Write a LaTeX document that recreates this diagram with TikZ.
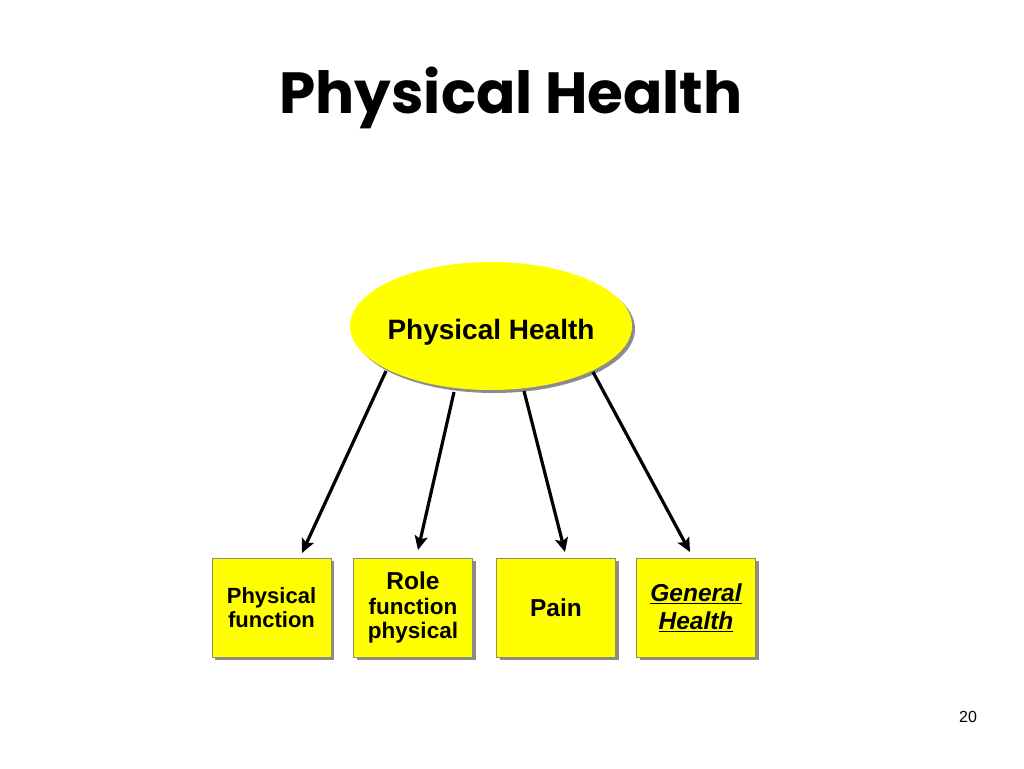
\documentclass[tikz,border=0pt]{standalone}
\usepackage{fontspec}
\setmainfont{Liberation Sans}
\newfontfamily\titlefont{Poppins}
\usetikzlibrary{arrows.meta,shapes.geometric}
\definecolor{boxyellow}{HTML}{FFFF00}
\definecolor{shadowgray}{HTML}{8C8C8C}
\definecolor{boxedge}{HTML}{8E8E6A}
\tikzset{
  leaf/.style={rectangle,fill=boxyellow,draw=boxedge,line width=0.8pt,
    minimum width=119pt,minimum height=99pt,inner sep=0pt,align=center,
    preaction={fill=shadowgray,draw=none,transform canvas={shift={(3pt,-3pt)}}}},
  hub/.style={ellipse,fill=boxyellow,draw=none,minimum width=282pt,minimum height=128pt,
    inner sep=0pt,font=\fontsize{28}{30}\selectfont\bfseries,
    preaction={fill=shadowgray,transform canvas={shift={(3pt,-3pt)}}}},
  arr/.style={line width=3.2pt,-{Stealth[length=14pt,width=13pt,inset=3pt]}},
}
\begin{document}
\begin{tikzpicture}[x=1pt,y=-1pt]
\useasboundingbox (0,0) rectangle (1024,768);
\node (title) at (511,98) {\resizebox{463pt}{!}{\titlefont\fontsize{56}{60}\selectfont\bfseries Physical Health}};
\node[hub] (ph) at (491,326) {\raisebox{-13pt}[0pt][0pt]{\makebox[0pt]{Physical Health}}};
\node[leaf,font=\fontsize{22}{24}\selectfont\bfseries] (b1) at (271.5,607.5) {Physical\\function};
\node[leaf,font=\fontsize{22.5}{24.5}\selectfont\bfseries] (b2) at (413,607.5) {{\fontsize{24.5}{26}\selectfont Role}\\function\\physical};
\node[leaf,font=\fontsize{24.5}{26}\selectfont\bfseries] (b3) at (556,607.5) {Pain};
\node[leaf,font=\fontsize{24.5}{28}\selectfont\bfseries\itshape] (b4) at (696,607.5) {\underline{General}\\\underline{Health}};
\coordinate (s1) at (386,371);
\coordinate (s2) at (454,392);
\coordinate (s3) at (524,391);
\coordinate (s4) at (593,372);
\coordinate (e1) at (302,553);
\coordinate (e2) at (418,550);
\coordinate (e3) at (565,552);
\coordinate (e4) at (690,552);
\draw[arr] (s1) -- (e1);
\draw[arr] (s2) -- (e2);
\draw[arr] (s3) -- (e3);
\draw[arr] (s4) -- (e4);
\node[font=\fontsize{16}{18}\selectfont\rmfamily] (pg) at (968,717) {20};
\end{tikzpicture}
\end{document}
